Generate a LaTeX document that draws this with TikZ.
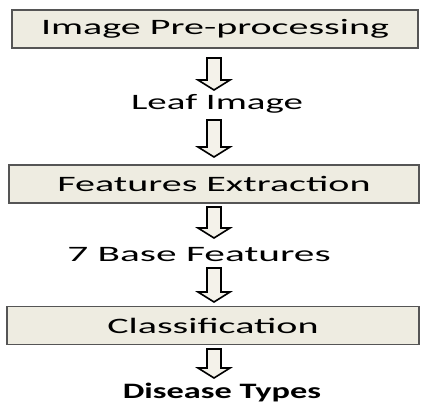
\documentclass[tikz,border=0pt]{standalone}
\usepackage{fontspec}
\usepackage{graphicx}
\setmainfont{Carlito}
\usetikzlibrary{calc}
\definecolor{boxfill}{HTML}{EEECE1}
\definecolor{boxline}{HTML}{555555}
\definecolor{arrowfill}{HTML}{F4F2EA}
\tikzset{
  stagebox/.style={draw=boxline, line width=1.2pt, fill=boxfill, minimum height=38pt, inner sep=0pt},
  stagelabel/.style={inner sep=0pt, font=\fontsize{22}{22}\selectfont},
  blockarrow/.style={draw=black, line width=1.6pt, fill=arrowfill, line join=miter},
}
% hollow block arrow pointing down from #1 to #2
\newcommand\downblock[2]{%
  \draw[blockarrow] ($(#1)+(-7,0)$) -- ($(#2)+(-7,-10)$) -- ($(#2)+(-16,-10)$)
    -- (#2) -- ($(#2)+(16,-10)$) -- ($(#2)+(7,-10)$) -- ($(#1)+(7,0)$) -- cycle;}
\newcommand\wide[2][1.82]{\scalebox{#1}[1]{#2}}
\begin{document}
\begin{tikzpicture}[x=1pt,y=-1pt]
  \useasboundingbox (0,0) rectangle (421,405);
  % processing stages
  \node[stagebox, minimum width=406pt] (pre) at (215,29) {};
  \node[stagelabel] at (pre.center) {\wide{Image Pre-processing}};
  \node[stagelabel] (leaf) at (217,104) {\wide[1.77]{Leaf Image}};
  \node[stagebox, minimum width=410pt] (feat) at (214,184) {};
  \node[stagelabel] at (feat.center) {\wide{Features Extraction}};
  \node[stagelabel] (base) at (199,255) {\wide[1.88]{7 Base Features}};
  \node[stagebox, minimum width=412pt] (cls) at (213,325.5) {};
  \node[stagelabel] at (cls.center) {\wide{Classification}};
  \node[stagelabel, font=\fontsize{22}{22}\selectfont\bfseries] (dis) at (222,393) {\wide[1.56]{Disease Types}};
  % arrow end points
  \coordinate (a1s) at (214,58);  \coordinate (a1e) at (214,90);
  \coordinate (a2s) at (214,120); \coordinate (a2e) at (214,157);
  \coordinate (a3s) at (214,207); \coordinate (a3e) at (214,238);
  \coordinate (a4s) at (214,268); \coordinate (a4e) at (214,302);
  \coordinate (a5s) at (214,349); \coordinate (a5e) at (214,378);
  \downblock{a1s}{a1e}
  \downblock{a2s}{a2e}
  \downblock{a3s}{a3e}
  \downblock{a4s}{a4e}
  \downblock{a5s}{a5e}
\end{tikzpicture}
\end{document}
